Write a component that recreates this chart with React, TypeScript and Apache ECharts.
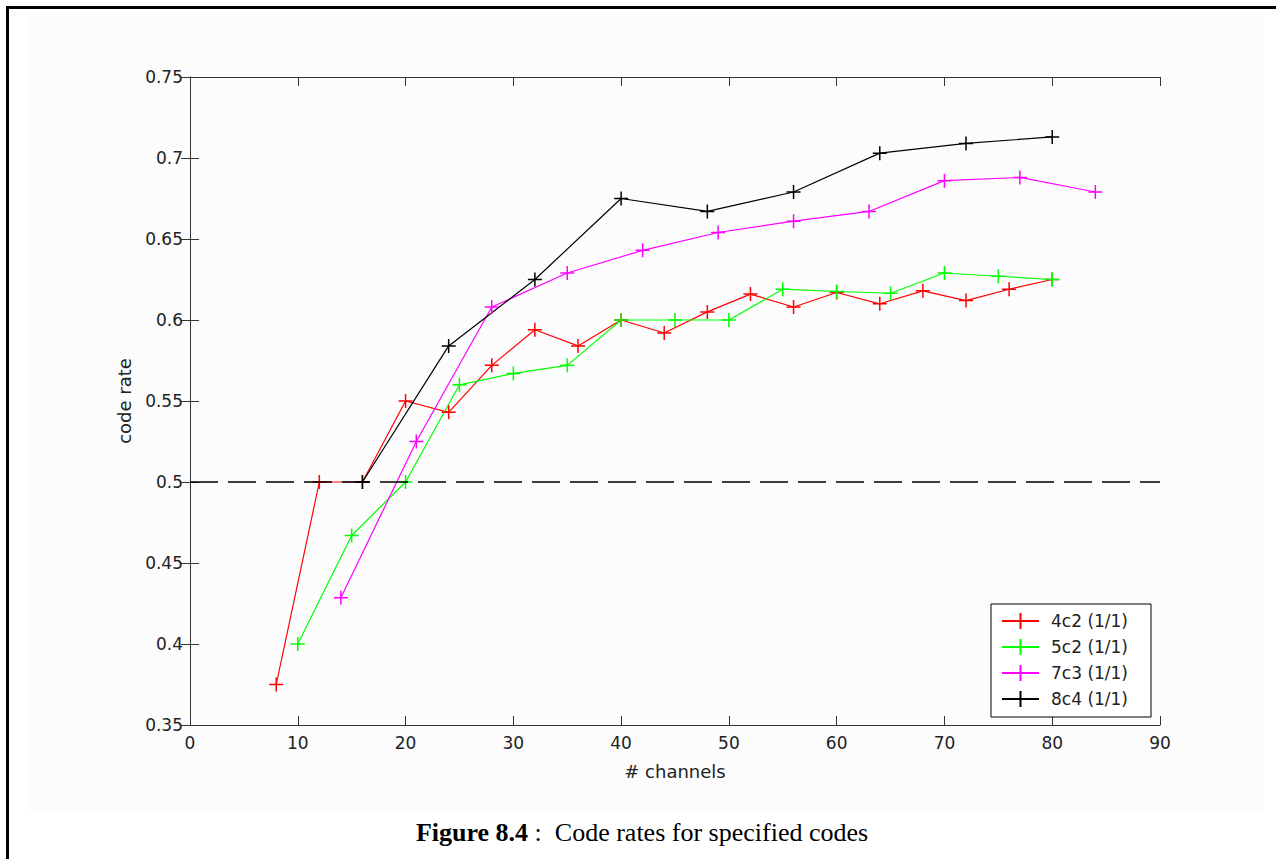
import React, { useEffect, useRef } from "react";
import * as echarts from "echarts";

const xTicks = { min: 0, max: 90, interval: 10 };
const yTicks = { min: 0.35, max: 0.75, interval: 0.05 };

const x4c2 = [8, 12, 16, 20, 24, 28, 32, 36, 40, 44, 48, 52, 56, 60, 64, 68, 72, 76, 80];
const y4c2 = [0.375, 0.5, 0.5, 0.55, 0.543, 0.572, 0.594, 0.584, 0.6, 0.592, 0.605, 0.616, 0.608, 0.617, 0.61, 0.618, 0.612, 0.619, 0.625];

const x5c2 = [10, 15, 20, 25, 30, 35, 40, 45, 50, 55, 60, 65, 70, 75, 80];
const y5c2 = [0.4, 0.467, 0.5, 0.56, 0.567, 0.572, 0.6, 0.6, 0.6, 0.619, 0.6176, 0.6165, 0.629, 0.627, 0.625];

const x7c3 = [14, 21, 28, 35, 42, 49, 56, 63, 70, 77, 84];
const y7c3 = [0.4286, 0.525, 0.608, 0.629, 0.643, 0.654, 0.661, 0.667, 0.686, 0.688, 0.679];

const x8c4 = [16, 24, 32, 40, 48, 56, 64, 72, 80];
const y8c4 = [0.5, 0.584, 0.625, 0.675, 0.667, 0.679, 0.703, 0.709, 0.713];

const seriesNames = ["4c2 (1/1)", "5c2 (1/1)", "7c3 (1/1)", "8c4 (1/1)"];
const seriesColors = ["#ff0000", "#00ff00", "#ff00ff", "#000000"];
const refLineX = [0, 90];
const refLineY = [0.5, 0.5];

const plus = "path://M0,5L10,5M5,0L5,10";
const FONT = "'DejaVu Sans', Verdana, sans-serif";
const SERIF = "'Liberation Serif', 'Times New Roman', serif";

function zip(xs: number[], ys: number[]) {
  return xs.map((x, i) => [x, ys[i]]);
}

export default function App() {
  const ref = useRef<HTMLDivElement>(null);
  useEffect(() => {
    if (!ref.current) return;
    const chart = echarts.init(ref.current, null, { renderer: "svg" });
    const datasets = [zip(x4c2, y4c2), zip(x5c2, y5c2), zip(x7c3, y7c3), zip(x8c4, y8c4)];
    const axisLine = { show: true, lineStyle: { color: "#333333", width: 1 } };
    const axisTick = { show: true, inside: true, length: 9, lineStyle: { color: "#333333", width: 1 } };
    const yFmt = (v: number) => String(parseFloat(v.toFixed(2)));
    chart.setOption({
      animation: false,
      backgroundColor: "#ffffff",
      grid: { left: 190, right: 116, top: 77, bottom: 134, containLabel: false },
      xAxis: [
        {
          type: "value",
          ...xTicks,
          position: "bottom",
          axisLine,
          axisTick,
          splitLine: { show: false },
          axisLabel: { color: "#222", fontSize: 17, fontFamily: FONT, margin: 9 },
          name: "# channels",
          nameLocation: "middle",
          nameGap: 37,
          nameTextStyle: { color: "#222", fontSize: 18, fontFamily: FONT },
        },
        {
          type: "value",
          ...xTicks,
          position: "top",
          axisLine,
          axisTick,
          splitLine: { show: false },
          axisLabel: { show: false },
        },
      ],
      yAxis: [
        {
          type: "value",
          ...yTicks,
          position: "left",
          axisLine,
          axisTick,
          splitLine: { show: false },
          axisLabel: { color: "#222", fontSize: 17, fontFamily: FONT, margin: 7, formatter: yFmt },
          name: "code rate",
          nameLocation: "middle",
          nameGap: 57,
          nameTextStyle: { color: "#222", fontSize: 18, fontFamily: FONT },
        },
        {
          type: "value",
          ...yTicks,
          position: "right",
          axisLine,
          axisTick,
          splitLine: { show: false },
          axisLabel: { show: false },
        },
      ],
      legend: {
        orient: "vertical",
        left: 991,
        top: 604,
        padding: [8, 23, 9, 10],
        itemGap: 8,
        itemWidth: 37,
        itemHeight: 20,
        backgroundColor: "#ffffff",
        borderColor: "#000000",
        borderWidth: 1,
        textStyle: { color: "#222", fontSize: 17, fontFamily: FONT, padding: [0, 0, 0, 7] },
        data: seriesNames,
      },
      series: [
        ...datasets.map((d, i) => ({
          type: "line",
          name: seriesNames[i],
          data: d,
          xAxisIndex: 0,
          yAxisIndex: 0,
          symbol: plus,
          symbolSize: 14,
          showSymbol: true,
          lineStyle: { color: seriesColors[i], width: 1.2 },
          itemStyle: { color: seriesColors[i], borderColor: seriesColors[i], borderWidth: 1.5 },
          z: 2,
        })),
        {
          type: "line",
          name: "ref",
          data: zip(refLineX, refLineY),
          symbol: "none",
          lineStyle: { color: "#000000", width: 1.6, type: [28, 10] },
          z: 3,
          silent: true,
        },
      ],
      graphic: [
        { type: "rect", shape: { x: 27, y: 17, width: 1237, height: 793 }, style: { fill: "#fcfcfc" }, z: -10, silent: true },
        { type: "rect", shape: { x: 6, y: 6, width: 1270, height: 3 }, style: { fill: "#000000" }, z: 10, silent: true },
        { type: "rect", shape: { x: 6, y: 6, width: 3, height: 853 }, style: { fill: "#000000" }, z: 10, silent: true },
        {
          type: "text",
          x: 642,
          y: 832,
          style: {
            text: "{b|Figure 8.4}{n| :  Code rates for specified codes}",
            align: "center",
            verticalAlign: "middle",
            rich: {
              b: { fontFamily: SERIF, fontSize: 26, fontWeight: "bold", fill: "#000" },
              n: { fontFamily: SERIF, fontSize: 26, fill: "#000" },
            },
          },
          z: 10,
        },
      ],
    });
    return () => chart.dispose();
  }, []);
  return <div ref={ref} style={{ position: "absolute", left: 0, top: 0, width: 1276, height: 859 }} />;
}
